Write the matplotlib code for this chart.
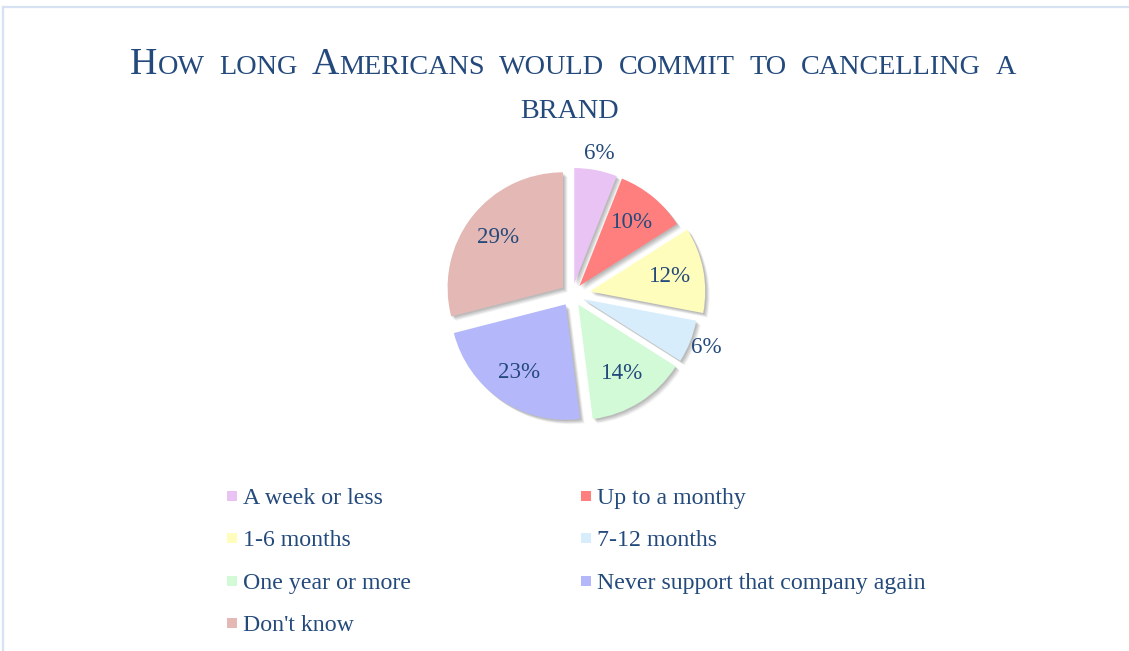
import matplotlib
matplotlib.use("Agg")
import matplotlib.pyplot as plt
import matplotlib.patheffects as pe
from matplotlib.patches import Rectangle
from matplotlib.lines import Line2D
import numpy as np

# Survey data
categories = ["A week or less", "Up to a monthy", "1-6 months", "7-12 months",
              "One year or more", "Never support that company again", "Don't know"]
shares = [6, 10, 12, 6, 14, 23, 29]
colors = ["#EAC3F5", "#FF7F7F", "#FFFDBB", "#D7EDFB", "#D2FAD6", "#B4B8FB", "#E4B8B5"]
explode = [0.10, 0.10, 0.156, 0.10, 0.10, 0.10, 0.10]
title = "How long Americans would commit to cancelling a\nbrand"

W, H = 1129, 651
TXT = "#244A7C"
SERIF = ["Liberation Serif", "DejaVu Serif"]

fig = plt.figure(figsize=(W / 100, H / 100), dpi=100)
fig.patch.set_facecolor("white")


def fx(px):
    return px / W


def fy(py_top):
    return 1 - py_top / H


# light frame (top and left edges)
frame_c = "#D6E2F1"
fig.add_artist(Line2D([fx(3), 1], [fy(6.5), fy(6.5)], color=frame_c, lw=1.6,
                      transform=fig.transFigure))
fig.add_artist(Line2D([fx(3), fx(3)], [fy(6.5), 0], color=frame_c, lw=1.6,
                      transform=fig.transFigure))

# ---- pie ----
cx, cy, r = 572.1, 294.8, 115.4
half = 160
ax = fig.add_axes([fx(cx - half), fy(cy + half), half * 2 / W, half * 2 / H])
wedges, _ = ax.pie(shares, colors=colors, explode=explode, startangle=90,
                   counterclock=False, radius=1.0,
                   wedgeprops=dict(linewidth=0))
shadow = [pe.SimplePatchShadow(offset=(3.2, -3.2), shadow_rgbFace="k", alpha=0.05),
          pe.SimplePatchShadow(offset=(2.5, -2.5), shadow_rgbFace="k", alpha=0.07),
          pe.SimplePatchShadow(offset=(1.8, -1.8), shadow_rgbFace="k", alpha=0.08),
          pe.SimplePatchShadow(offset=(1.0, -1.0), shadow_rgbFace="k", alpha=0.09),
          pe.Normal()]
for w in wedges:
    w.set_path_effects(shadow)
lim = half / r
ax.set_xlim(-lim, lim)
ax.set_ylim(-lim, lim)
ax.set_aspect("equal")
ax.axis("off")

for w, v in zip(wedges, shares):
    mid = np.deg2rad((w.theta1 + w.theta2) / 2)
    d = 0.71 if v > 8 else 1.15
    x = w.center[0] + d * np.cos(mid)
    y = w.center[1] + d * np.sin(mid)
    ax.text(x, y, f"{v}%", ha="center", va="center", fontsize=16.6,
            color=TXT, family=SERIF)

# ---- small-caps title ----
renderer = fig.canvas.get_renderer()
big, small = 27.3, 20.3
word_gap = 14.5
line_centers = [573, 570]
baselines = [74.5, 118.3]
for li, line in enumerate(title.split("\n")):
    x0 = 0.0
    placed = []
    for wi, word in enumerate(line.split(" ")):
        if wi:
            x0 += word_gap
        segs = []
        for ch in word:
            size = big if ch.isupper() else small
            if segs and segs[-1][1] == size:
                segs[-1][0] += ch.upper()
            else:
                segs.append([ch.upper(), size])
        for s, size in segs:
            t = fig.text(0, fy(baselines[li]), s, fontsize=size, color=TXT,
                         family=SERIF, ha="left", va="baseline")
            wd = t.get_window_extent(renderer).width
            placed.append((t, x0))
            x0 += wd
    start = line_centers[li] - x0 / 2
    for t, off in placed:
        t.set_x(fx(start + off))

# ---- legend (two columns, row-major) ----
col_x = [227, 581]
row0, row_step = 496, 42.3
for i, (lab, c) in enumerate(zip(categories, colors)):
    row, col = divmod(i, 2)
    yc = row0 + row * row_step
    fig.add_artist(Rectangle((fx(col_x[col]), fy(yc + 5)), 10 / W, 10 / H,
                             transform=fig.transFigure, facecolor=c, edgecolor="none"))
    fig.text(fx(col_x[col] + 16), fy(yc + 8), lab, fontsize=17.2, color=TXT,
             family=SERIF, ha="left", va="baseline")

fig.savefig("out.png", dpi=100, facecolor="white")
